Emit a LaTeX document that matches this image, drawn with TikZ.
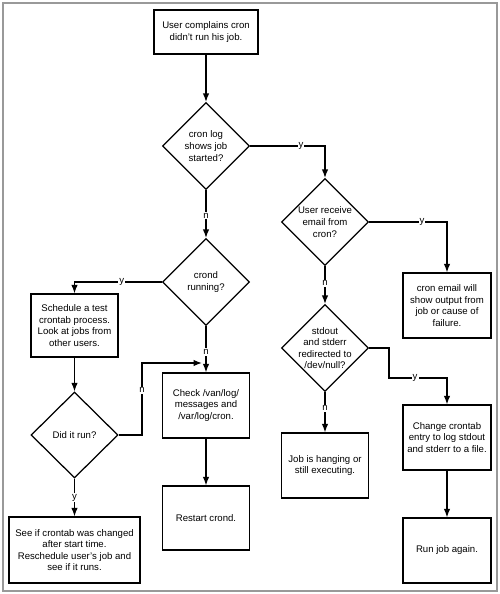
\documentclass[tikz,border=0pt]{standalone}
\usepackage{fontspec}
\setmainfont{Liberation Sans}
\usetikzlibrary{shapes.geometric,arrows.meta}
\begin{document}
\begin{tikzpicture}[x=1pt,y=-1pt,
  txt/.style={font=\fontsize{9.6}{11.6}\selectfont, align=center},
  box/.style={draw, line width=1.25pt, rectangle, inner sep=0pt, txt},
  dia/.style={draw, line width=1.25pt, diamond, inner sep=0pt, minimum width=87pt, minimum height=87pt},
  arr/.style={line width=1.25pt, -{Latex[length=8.5pt,width=6.5pt]}},
  lbl/.style={fill=white, inner sep=1pt, txt}]
\useasboundingbox (0,0) rectangle (500,594);
\draw[line width=1.5pt, black!40] (3,3) rectangle (497,591);

% boxes
\node[box, minimum width=104pt, minimum height=44pt] (start) at (206,32) {User complains cron\\didn't run his job.};
\node[box, minimum width=88pt, minimum height=65pt] (email) at (447,305.5) {cron email will\\show output from\\job or cause of\\failure.};
\node[box, minimum width=88pt, minimum height=65pt] (change) at (447,437.5) {Change crontab\\entry to log stdout\\and stderr to a file.};
\node[box, minimum width=88pt, minimum height=65pt] (again) at (447,550.5) {Run job again.};
\node[box, minimum width=87pt, minimum height=65pt] (hang) at (325,465.5) {Job is hanging or\\still executing.};
\node[box, minimum width=87pt, minimum height=63pt] (sched) at (74.5,325.5) {Schedule a test\\crontab process.\\Look at jobs from\\other users.};
\node[box, minimum width=87pt, minimum height=65pt] (check) at (206,405.5) {Check /van/log/\\messages and\\/var/log/cron.};
\node[box, minimum width=87pt, minimum height=64pt] (restart) at (206,518) {Restart crond.};
\node[box, minimum width=131pt, minimum height=66pt] (see) at (74.5,550) {See if crontab was changed\\after start time.\\Reschedule user's job and\\see if it runs.};

% diamonds
\node[dia] (d1) at (206,146) {};
\node[txt] (d1t) at (d1) {cron log\\shows job\\started?};
\node[dia] (d2) at (325,222) {};
\node[txt] (d2t) at (d2) {User receive\\email from\\cron?};
\node[dia] (d3) at (325,348) {};
\node[txt] (d3t) at (d3) {stdout\\and stderr\\redirected to\\/dev/null?};
\node[dia] (crond) at (206,282) {};
\node[txt] (crondt) at (crond) {crond\\running?};
\node[dia, minimum height=86pt] (didrun) at (74.5,435) {};
\node[txt] (didrunt) at (didrun) {Did it run?};

% connectors
\draw[arr] (start.south) -- (d1.north);
\draw[arr] (d1.east) -- node[lbl,pos=0.68]{y} (d1.east -| d2.north) -- (d2.north);
\draw[arr] (d1.south) -- node[lbl,pos=0.54]{n} (crond.north);
\draw[arr] (d2.east) -- node[lbl,pos=0.68]{y} (d2.east -| email.north) -- (email.north);
\draw[arr] (d2.south) -- node[lbl,pos=0.45]{n} (d3.north);
\draw[arr] (d3.east) -- (389,348) -- (389,378) -- node[lbl,pos=0.45]{y} (447,378) -- (change.north);
\draw[arr] (d3.south) -- node[lbl,pos=0.4]{n} (hang.north);
\draw[arr] (change.south) -- (again.north);
\draw[arr] (crond.west) -- node[lbl,pos=0.46]{y} (crond.west -| sched.north) -- (sched.north);
\draw[arr] (crond.south) -- node[lbl,pos=0.56]{n} (check.north);
\draw[arr] (sched.south) -- (didrun.north);
\coordinate (join) at (202,363);
\draw[arr] (didrun.east) -- (142,435) -- node[lbl,pos=0.62]{n} (142,363) -- (join);
\draw[arr] (didrun.south) -- node[lbl,pos=0.5]{y} (see.north);
\draw[arr] (check.south) -- (restart.north);
\end{tikzpicture}
\end{document}
